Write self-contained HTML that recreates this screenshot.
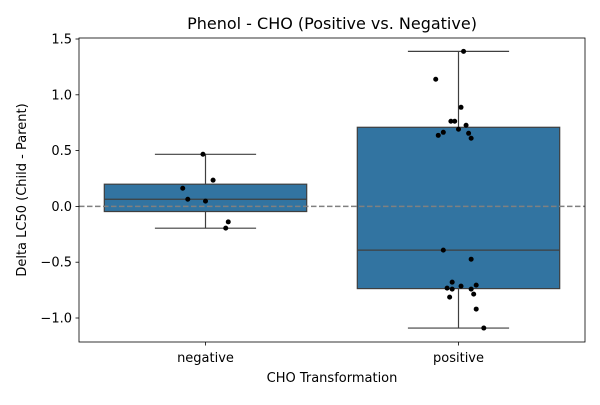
<!DOCTYPE html>
<html><head><meta charset="utf-8"><style>
body{margin:0;background:#fff;}
svg{font-family:"DejaVu Sans","Liberation Sans",sans-serif;}
</style></head><body>
<svg id="chart" width="600" height="400"></svg>
<script>
const categories=["negative","positive"];
const negValues=[0.467,0.235,0.163,0.064,0.047,-0.139,-0.195];
const posValues=[1.389,1.139,0.888,0.763,0.763,0.727,0.691,0.664,0.637,0.655,0.611,-0.392,-0.473,-0.679,-0.714,-0.705,-0.732,-0.741,-0.741,-0.786,-0.813,-0.920,-1.090];
const negJitter=[-0.01,0.03,-0.09,-0.07,0.0,0.09,0.08];
const posJitter=[0.02,-0.09,0.01,-0.03,-0.015,0.03,0.0,-0.06,-0.08,0.04,0.05,-0.06,0.05,-0.025,0.01,0.07,-0.045,-0.025,0.05,0.06,-0.035,0.07,0.1];
const yTicks=[-1.0,-0.5,0.0,0.5,1.0,1.5];
const yTickLabels=["−1.0","−0.5","0.0","0.5","1.0","1.5"];
const series=[negValues,posValues];
const jitters=[negJitter,posJitter];

const L=79,R=585,T=38,B=342;
const yMin=-1.215,yMax=1.509;
const X=c=>L+(c+0.5)/2*(R-L);
const Y=v=>B-(v-yMin)/(yMax-yMin)*(B-T);
const svg=document.getElementById('chart');
const NS='http://www.w3.org/2000/svg';
function mk(tag,attrs,parent){const e=document.createElementNS(NS,tag);for(const k in attrs)e.setAttribute(k,attrs[k]);(parent||svg).appendChild(e);return e;}
function q(arr,p){const s=[...arr].sort((a,b)=>a-b);const i=p*(s.length-1);const lo=Math.floor(i),hi=Math.ceil(i);return s[lo]+(s[hi]-s[lo])*(i-lo);}

let t=mk('text',{x:332,y:29,'text-anchor':'middle','font-size':16});t.textContent="Phenol - CHO (Positive vs. Negative)";



series.forEach((vals,ci)=>{
  const g=mk('g',{});
  
  
  const q1=q(vals,0.25),q3=q(vals,0.75),med=q(vals,0.5);
  const iqr=q3-q1;
  const inr=vals.filter(v=>v>=q1-1.5*iqr&&v<=q3+1.5*iqr);
  const lo=Math.min(...inr),hi=Math.max(...inr);
  const cx=X(ci),hw=0.4*(R-L)/2,cw=0.2*(R-L)/2;
  mk('line',{x1:cx,x2:cx,y1:Y(q3),y2:Y(hi),stroke:'#3f3f3f','stroke-width':1.2},g);
  mk('line',{x1:cx,x2:cx,y1:Y(q1),y2:Y(lo),stroke:'#3f3f3f','stroke-width':1.2},g);
  mk('line',{x1:cx-cw,x2:cx+cw,y1:Y(hi),y2:Y(hi),stroke:'#3f3f3f','stroke-width':1.2},g);
  mk('line',{x1:cx-cw,x2:cx+cw,y1:Y(lo),y2:Y(lo),stroke:'#3f3f3f','stroke-width':1.2},g);
  mk('rect',{x:cx-hw,y:Y(q3),width:2*hw,height:Y(q1)-Y(q3),fill:'#3274a1',stroke:'#3f3f3f','stroke-width':1.2},g);
  mk('line',{x1:cx-hw,x2:cx+hw,y1:Y(med),y2:Y(med),stroke:'#3f3f3f','stroke-width':1.2},g);
});

const zl=mk('line',{x1:L,x2:R,y1:Y(0),y2:Y(0),stroke:'#808080','stroke-width':1.5,'stroke-dasharray':'5.5,2.5'});



series.forEach((vals,ci)=>{
  vals.forEach((v,i)=>{
    const c=mk('circle',{cx:X(ci+jitters[ci][i]),cy:Y(v),r:2.5,fill:'#000'});
    
    
  });
});

const fr=mk('rect',{x:L,y:T,width:R-L,height:B-T,fill:'none',stroke:'#000','stroke-width':0.8});



yTicks.forEach((v,i)=>{
  mk('line',{x1:L-3.5,x2:L,y1:Y(v),y2:Y(v),stroke:'#000','stroke-width':0.8});
  const tx=mk('text',{x:L-7,y:Y(v)+4.5,'text-anchor':'end','font-size':13});
  tx.textContent=yTickLabels[i];
  
  
});
categories.forEach((c,i)=>{
  mk('line',{x1:X(i),x2:X(i),y1:B,y2:B+3.5,stroke:'#000','stroke-width':0.8});
  const tx=mk('text',{x:X(i),y:B+20,'text-anchor':'middle','font-size':13});
  tx.textContent=c;
  
  
});
t=mk('text',{x:332,y:382,'text-anchor':'middle','font-size':13});t.textContent="CHO Transformation";


t=mk('text',{x:0,y:0,'text-anchor':'middle','font-size':13,transform:'translate(26,190) rotate(-90)'});t.textContent="Delta LC50 (Child - Parent)";


</script>
</body></html>
